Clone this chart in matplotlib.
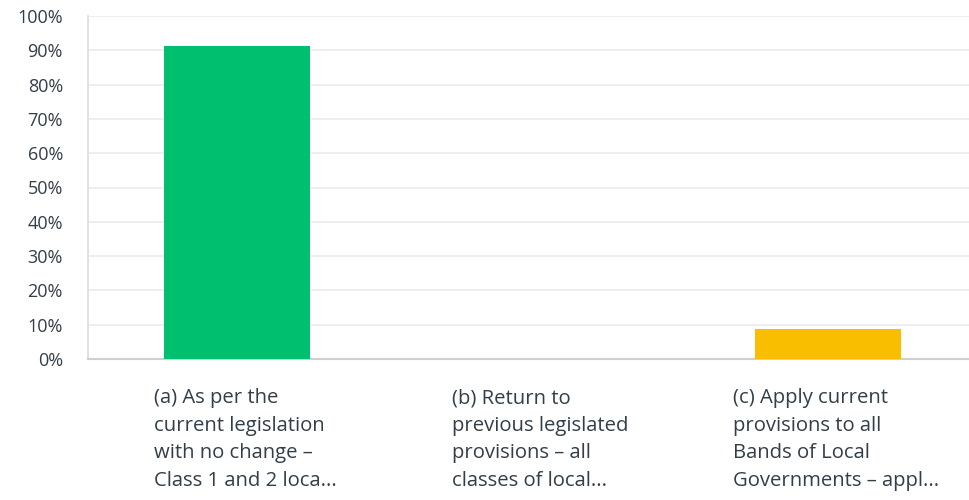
import matplotlib
matplotlib.use("Agg")
import matplotlib.pyplot as plt
import matplotlib.transforms as mtransforms

categories = [
    "(a) As per the\ncurrent legislation\nwith no change \u2013\nClass 1 and 2 loca...",
    "(b) Return to\nprevious legislated\nprovisions \u2013 all\nclasses of local...",
    "(c) Apply current\nprovisions to all\nBands of Local\nGovernments \u2013 appl...",
]
values = [91.3, 0.0, 8.7]
colors = ["#00bf6f", "#6bc8cd", "#f9be00"]
yticks = [0, 10, 20, 30, 40, 50, 60, 70, 80, 90, 100]

plt.rcParams["font.family"] = ["Open Sans", "DejaVu Sans"]
text_color = "#333e48"

fig = plt.figure(figsize=(9.7, 5), dpi=100)
ax = fig.add_axes([0.0907, 0.282, 0.9093, 0.686])

x = range(len(categories))
ax.bar(x, values, width=0.494, color=colors, zorder=3)

ax.set_xlim(-0.504, 2.481)
ax.set_ylim(0, 100)
ax.set_yticks(yticks)
ax.set_yticklabels([f"{v}%" for v in yticks], fontsize=13, color=text_color)
ax.set_xticks(list(x))
ax.set_xticklabels(categories, fontsize=14.6, color=text_color,
                   multialignment="left", linespacing=1.5)
ax.tick_params(axis="both", length=0)
ax.tick_params(axis="x", pad=21)
ax.tick_params(axis="y", pad=18)

# nudge category labels a little to the right
shift = mtransforms.ScaledTranslation(8 / 100, 0, fig.dpi_scale_trans)
for lab in ax.get_xticklabels():
    lab.set_transform(lab.get_transform() + shift)

ax.grid(axis="y", color="#ebebeb", linewidth=1.2, zorder=0)
for side in ["top", "right"]:
    ax.spines[side].set_visible(False)
ax.spines["left"].set_color("#dcdcdc")
ax.spines["left"].set_linewidth(1.2)
ax.spines["bottom"].set_color("#cfcfcf")
ax.spines["bottom"].set_linewidth(1.5)

fig.savefig("out.png", dpi=100)
